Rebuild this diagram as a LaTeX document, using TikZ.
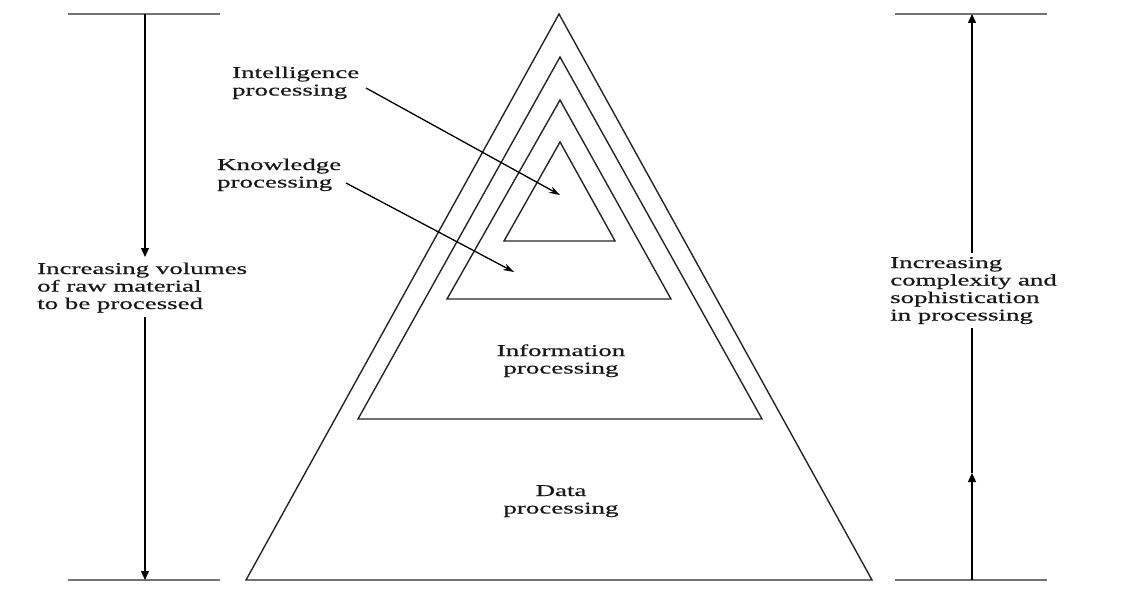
\documentclass[tikz,border=0pt]{standalone}
\usepackage{fontspec}
\setmainfont[FakeBold=0.5]{Liberation Serif}
\usetikzlibrary{arrows.meta}
\newcommand{\wtxtl}[1]{\scalebox{1.63}[1]{\fontsize{16.5}{17.5}\selectfont\begin{tabular}[t]{@{}l@{}}#1\end{tabular}}}
\newcommand{\wtxtc}[1]{\scalebox{1.63}[1]{\fontsize{16.5}{17.5}\selectfont\begin{tabular}[t]{@{}c@{}}#1\end{tabular}}}
\begin{document}
\begin{tikzpicture}[x=1pt,y=-1pt,
  tri/.style={draw=black!85,line width=1.4pt,line join=miter},
  guide/.style={draw=black!55,line width=1.6pt},
  vline/.style={draw=black,line width=1.4pt},
  diag/.style={draw=black,line width=1.3pt,-{Stealth[length=11pt,width=7pt]}},
  vtip/.style={-{Triangle[length=9pt,width=8pt]}},
  lbl/.style={inner sep=0pt,anchor=base west,text=black!90},
  clbl/.style={inner sep=0pt,anchor=base,text=black!90}]
\useasboundingbox (0,0) rectangle (1126,591);
% triangles
\draw[tri] (559,14) -- (872,580) -- (246,580) -- cycle;
\draw[tri] (560,57) -- (762,419) -- (358,419) -- cycle;
\draw[tri] (560,100) -- (671,299) -- (447,299) -- cycle;
\draw[tri] (560,142) -- (615,241) -- (504,241) -- cycle;
% guide lines
\coordinate (lt1) at (68,14); \coordinate (lt2) at (220,14);
\coordinate (lb1) at (68,580); \coordinate (lb2) at (220,580);
\coordinate (rt1) at (895,14); \coordinate (rt2) at (1047,14);
\coordinate (rb1) at (895,580); \coordinate (rb2) at (1047,580);
\draw[guide] (lt1) -- (lt2);
\draw[guide] (lb1) -- (lb2);
\draw[guide] (rt1) -- (rt2);
\draw[guide] (rb1) -- (rb2);
% labels
\node[lbl] (intel) at (232,78) {\wtxtl{Intelligence\\processing}};
\node[lbl] (know) at (217,170) {\wtxtl{Knowledge\\processing}};
\node[clbl] (info) at (561,356) {\wtxtc{Information\\processing}};
\node[clbl] (data) at (561,496) {\wtxtc{Data\\processing}};
\node[lbl] (vol) at (37,274) {\wtxtl{Increasing volumes\\of raw material\\to be processed}};
\node[lbl] (cplx) at (890,268) {\wtxtl{Increasing\\complexity and\\sophistication\\in processing}};
% diagonal arrows
\coordinate (ia) at (366,88); \coordinate (ib) at (560,195);
\coordinate (ka) at (346,183); \coordinate (kb) at (514,272);
\draw[diag] (ia) -- (ib);
\draw[diag] (ka) -- (kb);
% left vertical arrow
\coordinate (lv0) at (145,14); \coordinate (lv1) at (145,257);
\coordinate (lv2) at (145,317); \coordinate (lv3) at (145,580);
\draw[vline,vtip] (lv0) -- (lv1);
\draw[vline,vtip] (lv2) -- (lv3);
% right vertical arrow
\coordinate (rv0) at (972,580); \coordinate (rvm) at (972,473);
\coordinate (rv1) at (972,328); \coordinate (rv2) at (972,253);
\coordinate (rv3) at (972,14);
\draw[vline,vtip] (rv0) -- (rvm);
\draw[vline] (rvm) -- (rv1);
\draw[vline,vtip] (rv2) -- (rv3);
\end{tikzpicture}
\end{document}
